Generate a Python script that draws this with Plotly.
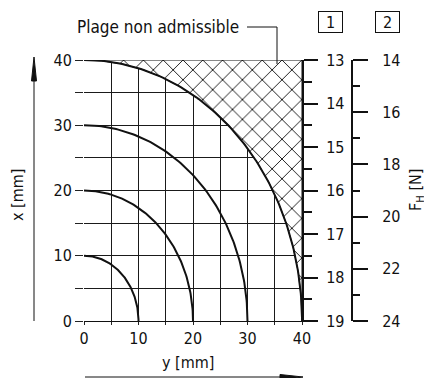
import numpy as np
import plotly.graph_objects as go

# data
radii = [10, 20, 30, 40]             # stroke curves, mm
limit_radius = 40                    # admissible limit
grid_vals = [0, 5, 10, 15, 20, 25, 30, 35, 40]
grid_text = ["0", "", "10", "", "20", "", "30", "", "40"]
scale1_vals = [13, 14, 15, 16, 17, 18, 19]
scale2_vals = [14, 16, 18, 20, 22, 24]

# the page body has an 8px margin, so the figure is drawn 8px smaller and offset
OFF = 8
W, H = 432 - OFF, 378 - OFF
L, T = 84 - OFF, 60 - OFF
B = H - (321 - OFF)
R = 12
PW = W - L - R
PH = H - T - B
DOM = 218 / PW

FONT = "DejaVu Sans Condensed"
INK = "#111111"


def px(x):
    return (x - OFF - L) / PW


def py(y):
    return (H - B - (y - OFF)) / PH


fig = go.Figure()

# hatched region outside the limit curve
t = np.linspace(0, np.pi / 2, 120)
hx = list(limit_radius * np.sin(t)) + [limit_radius, 0]
hy = list(limit_radius * np.cos(t)) + [limit_radius, limit_radius]
fig.add_trace(go.Scatter(
    x=hx, y=hy, mode="lines", fill="toself",
    line=dict(color=INK, width=1),
    fillcolor="white",
    fillpattern=dict(shape="x", size=14, solidity=0.12, fgcolor="black", bgcolor="white", fillmode="replace"),
    hoverinfo="skip", showlegend=False,
))

for r in radii:
    fig.add_trace(go.Scatter(
        x=r * np.sin(t), y=r * np.cos(t), mode="lines",
        line=dict(color=INK, width=2), hoverinfo="skip", showlegend=False,
    ))

tickfont = dict(family=FONT, size=16, color=INK)

fig.update_layout(
    width=W, height=H,
    margin=dict(l=L, r=R, t=T, b=B, pad=0),
    paper_bgcolor="white", plot_bgcolor="white",
    font=dict(family=FONT, size=16, color=INK),
    xaxis=dict(
        domain=[0, DOM], range=[0, 40], tickmode="array", tickvals=grid_vals, ticktext=grid_text,
        showgrid=True, gridcolor="#1a1a1a", gridwidth=1, zeroline=False, automargin=False,
        showline=True, linecolor=INK, linewidth=1,
        ticks="outside", ticklen=3, tickcolor="#222", tickfont=tickfont,
    ),
    yaxis=dict(
        range=[0, 40], tickmode="array", tickvals=grid_vals, ticktext=grid_text,
        showgrid=True, gridcolor="#1a1a1a", gridwidth=1, zeroline=False, automargin=False,
        showline=False, ticks="outside", ticklen=8, tickcolor="#222", tickfont=tickfont,
        ticklabelstandoff=0,
    ),
    yaxis2=dict(
        overlaying="y", anchor="x", side="right", range=[19, 13], automargin=False,
        tickmode="array", tickvals=scale1_vals, showgrid=False, zeroline=False,
        showline=True, linecolor=INK, linewidth=2,
        ticks="outside", ticklen=14, tickwidth=2, tickcolor=INK, tickfont=tickfont,
        minor=dict(dtick=0.5, ticks="outside", ticklen=8, tickwidth=2, tickcolor=INK, showgrid=False),
        ticklabelstandoff=5,
    ),
    yaxis3=dict(
        overlaying="y", anchor="free", position=px(352), side="right", range=[24, 14], automargin=False,
        tickmode="array", tickvals=scale2_vals, showgrid=False, zeroline=False,
        showline=True, linecolor=INK, linewidth=2,
        ticks="outside", ticklen=15, tickwidth=2, tickcolor=INK, tickfont=tickfont,
        minor=dict(dtick=1, ticks="outside", ticklen=7, tickwidth=2, tickcolor=INK, showgrid=False),
        ticklabelstandoff=11,
    ),
)

# empty traces to show the extra scales
fig.add_trace(go.Scatter(x=[None], y=[None], yaxis="y2", showlegend=False))
fig.add_trace(go.Scatter(x=[None], y=[None], yaxis="y3", showlegend=False))

ann = [
    dict(text="Plage non admissible", x=px(158), y=py(27), font=dict(family=FONT, size=17, color=INK)),
    dict(text="x [mm]", x=px(18), y=py(195), textangle=-90),
    dict(text="y [mm]", x=px(188), y=py(362)),
    dict(text="F<sub>H</sub> [N]", x=px(416), y=py(190), textangle=-90),
    dict(text="1", x=px(330), y=py(22), bordercolor=INK, borderwidth=1, width=21, height=18, borderpad=1),
    dict(text="2", x=px(387), y=py(22), bordercolor=INK, borderwidth=1, width=21, height=18, borderpad=1),
]
for a in ann:
    a.setdefault("font", dict(family=FONT, size=16, color=INK))
    fig.add_annotation(xref="paper", yref="paper", showarrow=False, xanchor="center", yanchor="middle", **a)

# leader line to hatched zone
fig.add_shape(type="path", xref="paper", yref="paper",
              path=f"M {px(247)} {py(27)} L {px(277)} {py(27)} L {px(277)} {py(64)}",
              line=dict(color=INK, width=1))

# axis arrows
fig.add_shape(type="line", xref="paper", yref="paper", x0=px(34), x1=px(34), y0=py(321), y1=py(75),
              line=dict(color=INK, width=1))
fig.add_shape(type="path", xref="paper", yref="paper",
              path=f"M {px(31.5)} {py(81)} L {px(36.5)} {py(81)} L {px(34)} {py(57)} Z",
              fillcolor=INK, line=dict(color=INK, width=1))
fig.add_shape(type="line", xref="paper", yref="paper", x0=px(85), x1=px(285), y0=py(377), y1=py(377),
              line=dict(color=INK, width=1))
fig.add_shape(type="path", xref="paper", yref="paper",
              path=f"M {px(280)} {py(374.5)} L {px(280)} {py(380)} L {px(303)} {py(377)} Z",
              fillcolor=INK, line=dict(color=INK, width=1))

fig.write_html("out.html")
